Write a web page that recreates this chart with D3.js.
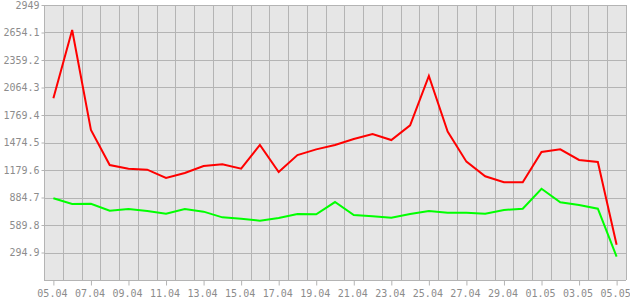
<!DOCTYPE html>
<html>
<head>
<meta charset="utf-8">
<script src="https://cdn.jsdelivr.net/npm/d3@7"></script>
<style>
  body { margin: 0; background: #fff; }
  svg text { font-family: "DejaVu Sans Mono", monospace; font-size: 10px; fill: #8c8c8c; }
</style>
</head>
<body>
<div id="chart"></div>
<script>
var days = ["05.04","06.04","07.04","08.04","09.04","10.04","11.04","12.04","13.04","14.04",
            "15.04","16.04","17.04","18.04","19.04","20.04","21.04","22.04","23.04","24.04",
            "25.04","26.04","27.04","28.04","29.04","30.04","01.05","02.05","03.05","04.05","05.05"];
var redValues = [1949, 2681, 1609, 1233, 1194, 1183, 1094, 1147, 1223, 1241,
                 1194, 1448, 1158, 1340, 1401, 1448, 1512, 1566, 1501, 1659,
                 2188, 1591, 1269, 1112, 1048, 1048, 1373, 1401, 1287, 1265, 379];
var greenValues = [876, 815, 818, 743, 761, 740, 711, 761, 733, 672,
                   657, 636, 665, 708, 704, 836, 697, 683, 668, 708,
                   740, 722, 722, 711, 751, 765, 979, 833, 804, 765, 250];
var yTicks = [294.9, 589.8, 884.7, 1179.6, 1474.5, 1769.4, 2064.3, 2359.2, 2654.1, 2949];
var yMax = 2949;

var W = 630, H = 300;
var plot = {left: 44, right: 626, top: 5, bottom: 280};

var svg = d3.select("#chart")
    .append("svg")
    .attr("width", W)
    .attr("height", H);

var x = d3.scaleLinear()
    .domain([-0.5, days.length - 0.5])
    .range([plot.left, plot.right]);

var y = d3.scaleLinear()
    .domain([0, yMax])
    .range([plot.bottom, plot.top]);

// plot background
svg.append("rect")
    .attr("x", plot.left)
    .attr("y", plot.top)
    .attr("width", plot.right - plot.left)
    .attr("height", plot.bottom - plot.top)
    .attr("fill", "#e6e6e6");

// grid
var grid = svg.append("g").attr("stroke", "#b4b4b4").attr("stroke-width", 1);
grid.selectAll(".vg")
    .data(d3.range(days.length + 1))
    .enter()
    .append("line")
    .attr("x1", function(d) { return Math.round(x(d - 0.5)) + 0.5; })
    .attr("x2", function(d) { return Math.round(x(d - 0.5)) + 0.5; })
    .attr("y1", plot.top)
    .attr("y2", plot.bottom);
grid.selectAll(".hg")
    .data(yTicks)
    .enter()
    .append("line")
    .attr("x1", plot.left)
    .attr("x2", plot.right)
    .attr("y1", function(d) { return Math.round(y(d)) + 0.5; })
    .attr("y2", function(d) { return Math.round(y(d)) + 0.5; });

// axes
var yAxis = svg.append("g")
    .attr("transform", "translate(" + (plot.left + 0.5) + ",0)")
    .call(d3.axisLeft(y).tickValues(yTicks).tickSize(3).tickPadding(2)
        .tickFormat(function(d) { return d === yMax ? "2949" : d3.format(".1f")(d); }));
yAxis.select(".domain").attr("stroke", "#b4b4b4").attr("d", "M0," + plot.top + "V" + (plot.bottom + 0.5));
yAxis.selectAll(".tick line").attr("stroke", "#b4b4b4");
yAxis.selectAll(".tick text").attr("font-size", null).attr("font-family", null);

var xAxis = svg.append("g")
    .attr("transform", "translate(0," + (plot.bottom + 0.5) + ")")
    .call(d3.axisBottom(x)
        .tickValues(d3.range(0, days.length, 2))
        .tickSize(5).tickPadding(4)
        .tickFormat(function(d) { return days[d]; }));
xAxis.select(".domain").attr("stroke", "#b4b4b4").attr("d", "M" + plot.left + ",0H" + plot.right);
xAxis.selectAll(".tick line").attr("stroke", "#b4b4b4");
xAxis.selectAll(".tick text").attr("font-size", null).attr("font-family", null).attr("dx", -1.5);

// lines
var line = d3.line()
    .x(function(d, i) { return x(i); })
    .y(function(d) { return y(d); });

svg.append("path")
    .datum(greenValues)
    .attr("fill", "none")
    .attr("stroke", "#00ff00")
    .attr("stroke-width", 2)
    .attr("d", line);

svg.append("path")
    .datum(redValues)
    .attr("fill", "none")
    .attr("stroke", "#ff0000")
    .attr("stroke-width", 2)
    .attr("d", line);
</script>
</body>
</html>
